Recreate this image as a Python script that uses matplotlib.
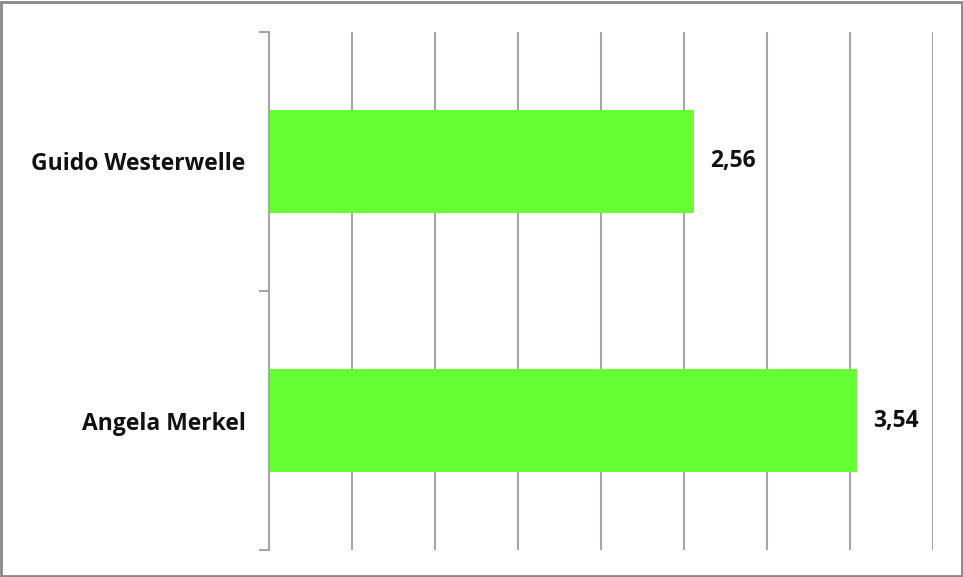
import matplotlib.pyplot as plt
from matplotlib.patches import Rectangle

# Durchschnittliche Bewertung der Politiker
names = ['Angela Merkel', 'Guido Westerwelle']
scores = [3.54, 2.56]

plt.rcParams['font.family'] = ['Open Sans', 'DejaVu Sans']

fig = plt.figure(figsize=(9.63, 5.77), dpi=100)
ax = fig.add_axes([269 / 963, 27 / 577, 664 / 963, 518 / 577])

pos = list(range(len(names)))
bars = ax.barh(pos, scores, height=0.4, color='#66FF33', zorder=2)

for b, s in zip(bars, scores):
    ax.text(b.get_width() + 0.1, b.get_y() + b.get_height() / 2,
            f'{s:.2f}'.replace('.', ','), va='center', ha='left',
            fontsize=16.5, fontweight='bold', color='#111111')

ax.set_xlim(0, 4)
ax.set_ylim(-0.5, 1.5)
ax.set_xticks([i * 0.5 for i in range(9)])
ax.xaxis.grid(True, color='#a6a6a6', linewidth=1.5, zorder=0)
ax.tick_params(axis='x', length=0, labelbottom=False)

ax.set_yticks(pos)
ax.set_yticklabels(names, fontsize=16.5, fontweight='bold', color='#111111')
ax.set_yticks([-0.5, 0.5, 1.5], minor=True)
ax.tick_params(axis='y', which='major', length=0, pad=17)
ax.tick_params(axis='y', which='minor', length=7.5, width=1.5, color='#a6a6a6')

for side in ['top', 'right', 'bottom']:
    ax.spines[side].set_visible(False)
ax.spines['left'].set_color('#a6a6a6')
ax.spines['left'].set_linewidth(1.5)

# Rahmen um das Diagramm
fig.patches.append(Rectangle((0.001, 0.001), 0.998, 0.996, transform=fig.transFigure,
                             fill=False, edgecolor='#888888', linewidth=2))

fig.savefig('out.png', dpi=100)
